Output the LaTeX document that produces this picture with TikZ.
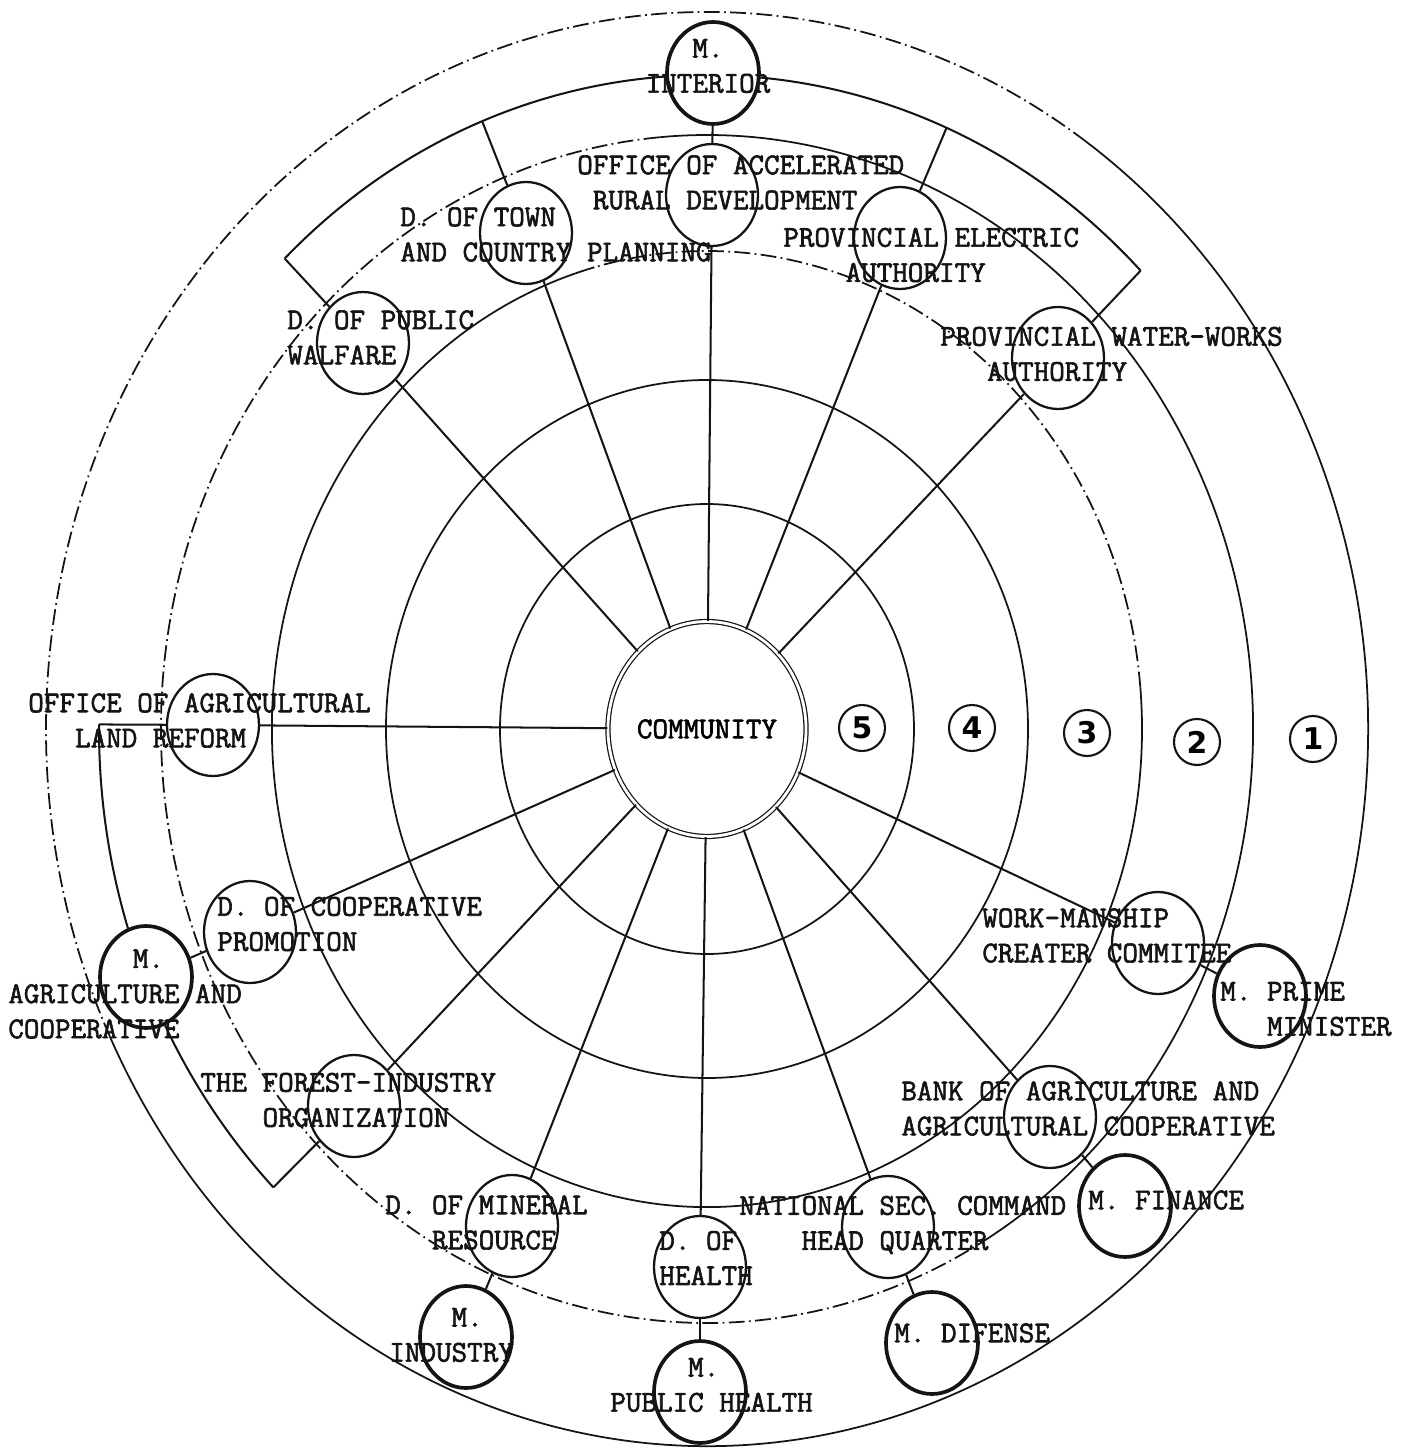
\documentclass[tikz,border=0pt]{standalone}
\usepackage{fontspec}
\usepackage{xcolor}
\usepackage{tikz}
\usetikzlibrary{shapes.geometric}
\newfontfamily\typefont{Latin Modern Mono}[AutoFakeBold=2]
\newfontfamily\digitfont{DejaVu Sans}
\definecolor{ink}{HTML}{141414}

\begin{document}
\begin{tikzpicture}[
    x=0.02cm, y=0.02cm,
    ring/.style={line width=1pt, color=ink},
    brokenring/.style={ring, dash pattern=on 9pt off 2.5pt on 1pt off 2.5pt},
    spoke/.style={line width=1.15pt, color=ink},
    office/.style={
        ellipse,
        draw=ink,
        fill=white,
        line width=1.3pt,
        minimum width=1.84cm,
        minimum height=2.04cm,
        inner sep=0pt,
    },
    ministry/.style={office, line width=2.1pt},
    caption/.style={font=\typefont\bfseries\fontsize{17.2}{20}\selectfont, align=left, anchor=west, inner sep=0pt, text=ink},
    level/.style={circle, draw=ink, line width=1.2pt, minimum size=0.92cm, inner sep=0pt, font=\digitfont\bfseries\fontsize{17}{18}\selectfont},
]

\useasboundingbox (-707,-719) rectangle (708,729);

\draw[ring] (0,0) ellipse [x radius=207, y radius=225];
\draw[ring] (0,0) ellipse [x radius=321, y radius=349];
\draw[ring]       (105:435 and 478) arc [start angle=105, end angle=365, x radius=435, y radius=478];
\draw[brokenring] (5:435 and 478)   arc [start angle=5,   end angle=105, x radius=435, y radius=478];
\draw[ring]       (-60:546 and 594) arc [start angle=-60, end angle=95,  x radius=546, y radius=594];
\draw[brokenring] (95:546 and 594)  arc [start angle=95,  end angle=300, x radius=546, y radius=594];
\draw[ring]       (205:661 and 717) arc [start angle=205, end angle=415, x radius=661, y radius=717];
\draw[brokenring] (55:661 and 717)  arc [start angle=55,  end angle=205, x radius=661, y radius=717];

\coordinate (cornerNE) at (44.5:608 and 654);
\coordinate (cornerNW) at (134:608 and 654);
\coordinate (cornerSW) at (224.5:608 and 654);
\coordinate (bandW)    at (179.6:608 and 654);
\coordinate (bandT)    at (111.7:608 and 654);
\coordinate (bandE)    at (66.8:608 and 654);

\draw[spoke] (cornerNE) arc [start angle=44.5, end angle=134, x radius=608, y radius=654];
\draw[spoke] (bandW) arc [start angle=179.6, end angle=224.5, x radius=608, y radius=654];

\node[ellipse, draw=ink, double, double distance=1.6pt, line width=0.7pt, fill=white,
      minimum width=3.92cm, minimum height=4.3cm, inner sep=0pt,
      font=\typefont\bfseries\fontsize{17.2}{20}\selectfont] (community) at (0,0) {COMMUNITY};

\node[office]   (ard)       at (   5,  534) {};
\node[office]   (town)      at (-181,  496) {};
\node[office]   (elec)      at ( 193,  491) {};
\node[office]   (walfare)   at (-344,  386) {};
\node[office]   (water)     at ( 351,  371) {};
\node[office]   (landref)   at (-494,    4) {};
\node[office]   (coop)      at (-457, -203) {};
\node[office]   (forest)    at (-353, -377) {};
\node[office]   (mineral)   at (-195, -497) {};
\node[office]   (health)    at (  -7, -538) {};
\node[office]   (natsec)    at ( 181, -498) {};
\node[office]   (bank)      at ( 343, -388) {};
\node[office]   (workman)   at ( 451, -214) {};

\node[ministry] (minterior) at (   6,  656) {};
\node[ministry] (magri)     at (-561, -248) {};
\node[ministry] (mindustry) at (-241, -608) {};
\node[ministry] (mpublic)   at (  -7, -663) {};
\node[ministry] (mdefense)  at ( 225, -614) {};
\node[ministry] (mfinance)  at ( 418, -477) {};
\node[ministry] (mprime)    at ( 553, -267) {};

\foreach \dep in {ard, town, elec, walfare, water, landref, coop, forest, mineral, health, natsec, bank, workman}
    \draw[spoke] (community) -- (\dep);

\draw[spoke] (minterior) -- (ard);
\draw[spoke] (magri)     -- (coop);
\draw[spoke] (mindustry) -- (mineral);
\draw[spoke] (mpublic)   -- (health);
\draw[spoke] (mdefense)  -- (natsec);
\draw[spoke] (mfinance)  -- (bank);
\draw[spoke] (mprime)    -- (workman);

\draw[spoke] (cornerNW) -- (walfare);
\draw[spoke] (cornerNE) -- (water);
\draw[spoke] (bandT)    -- (town);
\draw[spoke] (bandE)    -- (elec);
\draw[spoke] (landref)  -- (bandW);
\draw[spoke] (cornerSW) -- (forest);

\node[caption, align=center, anchor=center] (minteriortxt) at (1, 663) {M.\\INTERIOR};
\node[caption] (ardtxt)       at (-130,  546.5) {OFFICE OF ACCELERATED\\\hphantom{X}RURAL DEVELOPMENT};
\node[caption] (towntxt)      at (-307,  494.5) {D. OF TOWN\\AND COUNTRY PLANNING};
\node[caption] (electxt)      at (  76,  474)   {PROVINCIAL ELECTRIC\\\hphantom{XXXX}AUTHORITY};
\node[caption] (walfaretxt)   at (-420,  391.5) {D. OF PUBLIC\\WALFARE};
\node[caption] (watertxt)     at ( 233,  375)   {PROVINCIAL WATER-WORKS\\\hphantom{XXX}AUTHORITY};
\node[caption] (landreftxt)   at (-679,    8.5) {OFFICE OF AGRICULTURAL\\\hphantom{XXX}LAND REFORM};
\node[caption] (cooptxt)      at (-490, -195)   {D. OF COOPERATIVE\\PROMOTION};
\node[caption] (magritxt)     at (-699, -265)   {\hphantom{XXXXXXXX}M.\\AGRICULTURE AND\\COOPERATIVE};
\node[caption] (foresttxt)    at (-507, -371)   {THE FOREST-INDUSTRY\\\hphantom{XXXX}ORGANIZATION};
\node[caption] (mineraltxt)   at (-322, -493.5) {D. OF MINERAL\\\hphantom{XXX}RESOURCE};
\node[caption] (mindustrytxt) at (-318, -606)   {\hphantom{XXXX}M.\\INDUSTRY};
\node[caption] (healthtxt)    at ( -48, -529)   {D. OF\\HEALTH};
\node[caption] (mpublictxt)   at ( -97, -656)   {\hphantom{XXXXX}M.\\PUBLIC HEALTH};
\node[caption] (natsectxt)    at (  32, -496)   {NATIONAL SEC. COMMAND\\\hphantom{XXXX}HEAD QUARTER};
\node[caption] (mdefensetxt)  at ( 187, -604)   {M. DIFENSE};
\node[caption] (banktxt)      at ( 194, -379.5) {BANK OF AGRICULTURE AND\\AGRICULTURAL COOPERATIVE};
\node[caption] (mfinancetxt)  at ( 381, -471)   {M. FINANCE};
\node[caption] (workmantxt)   at ( 275, -206.5) {WORK-MANSHIP\\CREATER COMMITEE};
\node[caption] (mprimetxt)    at ( 513, -280)   {M. PRIME\\\hphantom{XXX}MINISTER};

\node[level] (lvl5) at (155,   1) {5};
\node[level] (lvl4) at (265,   1) {4};
\node[level] (lvl3) at (380,  -4) {3};
\node[level] (lvl2) at (490, -13) {2};
\node[level] (lvl1) at (606, -10) {1};

\end{tikzpicture}
\end{document}
